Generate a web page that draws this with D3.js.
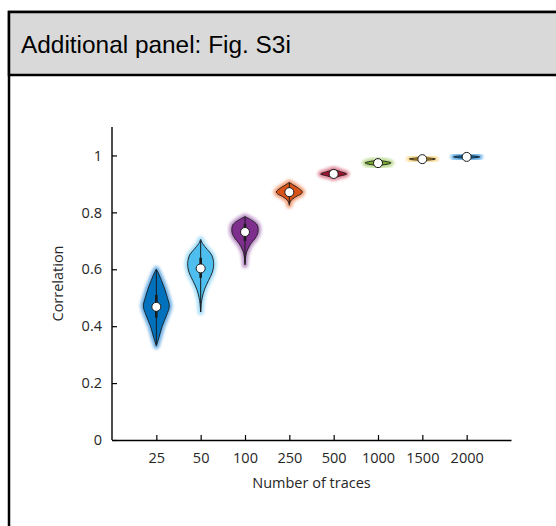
<!DOCTYPE html>
<html>
<head>
<meta charset="utf-8">
<script src="https://cdn.jsdelivr.net/npm/d3@7"></script>
<style>
  body { margin: 0; background: #fff; }
  svg { display: block; }
</style>
</head>
<body>
<div id="chart"></div>
<script>
// Data
const categories = ["25", "50", "100", "250", "500", "1000", "1500", "2000"];
const colors = ["#0072BD", "#4DBEEE", "#7E2F8E", "#D95319", "#A2142F", "#77AC30", "#EDB120", "#0072BD"];
const haloColors = ["#4b9ee0", "#8fd6f6", "#b07fbf", "#f08a5c", "#d86a80", "#a9d076", "#f5cf72", "#3d9ae0"];
const medians = [0.468, 0.603, 0.731, 0.871, 0.935, 0.973, 0.987, 0.995];
const q1s = [0.43, 0.57, 0.70, 0.860, 0.930, 0.970, 0.985, 0.993];
const q3s = [0.51, 0.64, 0.76, 0.882, 0.941, 0.978, 0.990, 0.997];
const lows = [0.335, 0.45, 0.62, 0.830, 0.924, 0.965, 0.983, 0.991];
const highs = [0.600, 0.70, 0.785, 0.905, 0.950, 0.982, 0.992, 0.999];
// violin outlines: [value, relative half width]
const densities = [
  [[0.33, 0], [0.36, 0.2], [0.40, 0.45], [0.44, 0.8], [0.47, 1.0], [0.50, 0.85], [0.53, 0.65], [0.56, 0.4], [0.59, 0.12], [0.60, 0]],
  [[0.45, 0], [0.48, 0.05], [0.50, 0.12], [0.53, 0.3], [0.56, 0.6], [0.59, 0.9], [0.62, 1.0], [0.65, 0.85], [0.67, 0.5], [0.69, 0.15], [0.705, 0]],
  [[0.615, 0], [0.64, 0.04], [0.66, 0.12], [0.69, 0.45], [0.71, 0.8], [0.73, 1.0], [0.755, 0.95], [0.77, 0.6], [0.785, 0]],
  [[0.825, 0], [0.84, 0.1], [0.855, 0.5], [0.865, 0.9], [0.872, 1.0], [0.885, 0.7], [0.895, 0.35], [0.905, 0]],
  [[0.921, 0], [0.928, 0.5], [0.935, 1.0], [0.942, 0.6], [0.951, 0]],
  [[0.965, 0], [0.970, 0.8], [0.974, 1.0], [0.979, 0.6], [0.983, 0]],
  [[0.983, 0], [0.986, 0.9], [0.988, 1.0], [0.990, 0.7], [0.993, 0]],
  [[0.990, 0], [0.993, 0.8], [0.995, 1.0], [0.997, 0.8], [1.000, 0]]
];
const yTicks = [0, 0.2, 0.4, 0.6, 0.8, 1];

const W = 556, H = 526;
const svg = d3.select("#chart").append("svg")
  .attr("width", W).attr("height", H);

// panel frame with grey header
svg.append("rect")
  .attr("x", 9).attr("y", 12).attr("width", 600).attr("height", 600)
  .attr("fill", "#fff").attr("stroke", "#000").attr("stroke-width", 2.5);
svg.append("rect")
  .attr("x", 9).attr("y", 12).attr("width", 600).attr("height", 63)
  .attr("fill", "#d9d9d9").attr("stroke", "#000").attr("stroke-width", 2.5);
svg.append("text")
  .attr("x", 21).attr("y", 53)
  .attr("font-family", "Liberation Sans, Arial, sans-serif")
  .attr("font-size", 24.4)
  .attr("fill", "#000")
  .text("Additional panel: Fig. S3i");

// scales
const x = d3.scaleLinear().domain([0, categories.length + 1]).range([112, 511]);
const y = d3.scaleLinear().domain([0, 1.1]).range([440, 127]);
const halfW = 13;

const defs = svg.append("defs");
defs.append("filter").attr("id", "blur")
  .attr("x", "-50%").attr("y", "-50%").attr("width", "200%").attr("height", "200%")
  .append("feGaussianBlur").attr("stdDeviation", 1.6);

const font = "Open Sans, Noto Sans, sans-serif";
const fs = 14.5;

// axes
const yAxis = svg.append("g")
  .attr("transform", `translate(${x(0)},0)`)
  .call(d3.axisLeft(y).tickValues(yTicks).tickSizeInner(-5).tickSizeOuter(0).tickPadding(10)
    .tickFormat(d3.format("~g")));
const xAxis = svg.append("g")
  .attr("transform", `translate(0,${y(0)})`)
  .call(d3.axisBottom(x).tickValues(d3.range(1, categories.length + 1))
    .tickSizeInner(-5).tickSizeOuter(0).tickPadding(13)
    .tickFormat(i => categories[i - 1]));
[xAxis, yAxis].forEach(g => {
  g.select(".domain").attr("stroke", "#000").attr("stroke-width", 1.4);
  g.selectAll(".tick line").attr("stroke", "#000").attr("stroke-width", 1.2);
  g.selectAll(".tick text").attr("font-family", font).attr("font-size", fs).attr("fill", "#262626");
});
// y axis extends above the last tick
yAxis.select(".domain").attr("d", `M0,${y(1.1)}V${y(0)}`);

svg.append("text")
  .attr("x", x(4.5)).attr("y", 488)
  .attr("text-anchor", "middle")
  .attr("font-family", font).attr("font-size", fs).attr("fill", "#262626")
  .text("Number of traces");
svg.append("text")
  .attr("transform", `translate(63,${y(0.55)}) rotate(-90)`)
  .attr("text-anchor", "middle")
  .attr("font-family", font).attr("font-size", fs).attr("fill", "#262626")
  .text("Correlation");

// violins
categories.forEach((c, i) => {
  const cx = x(i + 1);
  const area = d3.area()
    .curve(d3.curveCatmullRom)
    .y(d => y(d[0]))
    .x0(d => cx - d[1] * halfW)
    .x1(d => cx + d[1] * halfW);
  const g = svg.append("g");
  // scattered points halo
  g.append("path")
    .attr("d", area(densities[i]))
    .attr("fill", haloColors[i])
    .attr("stroke", haloColors[i])
    .attr("stroke-width", 6)
    .attr("stroke-linejoin", "round")
    .attr("opacity", 0.8)
    .attr("filter", "url(#blur)");
  g.append("path")
    .attr("d", area(densities[i]))
    .attr("fill", colors[i])
    .attr("stroke", "#1a1a1a")
    .attr("stroke-width", 0.9);
  g.append("line")
    .attr("x1", cx).attr("x2", cx)
    .attr("y1", y(lows[i])).attr("y2", y(highs[i]))
    .attr("stroke", "#1a1a1a").attr("stroke-width", 1);
  g.append("line")
    .attr("x1", cx).attr("x2", cx)
    .attr("y1", y(q1s[i])).attr("y2", y(q3s[i]))
    .attr("stroke", "#1a1a1a").attr("stroke-width", 2.6);
  g.append("circle")
    .attr("cx", cx).attr("cy", y(medians[i])).attr("r", 4.5)
    .attr("fill", "#fff").attr("stroke", "#1a1a1a").attr("stroke-width", 1);
});
</script>
</body>
</html>
